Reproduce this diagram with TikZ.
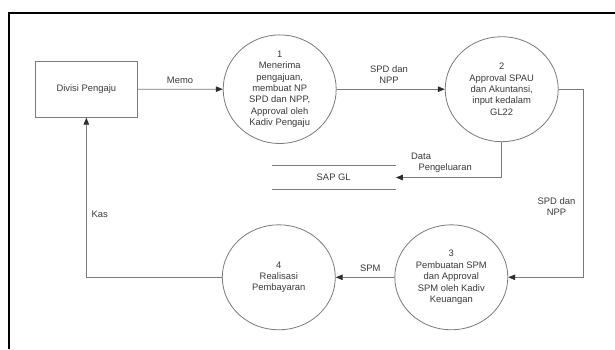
\documentclass[tikz,border=0pt]{standalone}
\usepackage{fontspec}
\setmainfont{Liberation Sans}
\usetikzlibrary{arrows.meta,shapes.geometric,calc}
\definecolor{linegray}{HTML}{7A7A7A}
\definecolor{textgray}{HTML}{3A3A3A}
\definecolor{tipgray}{HTML}{2E2E2E}
\tikzset{
  every node/.style={font=\fontsize{9.4}{11.4}\selectfont, text=textgray},
  process/.style={ellipse, draw=linegray, line width=0.8pt, minimum width=113pt,
    minimum height=105pt, inner sep=0pt, align=center},
  entity/.style={rectangle, draw=linegray, line width=0.8pt, minimum width=102.7pt,
    minimum height=56.3pt, inner sep=0pt},
  datastore/.style={rectangle, minimum width=124pt, minimum height=23.6pt, inner sep=0pt},
  flowlabel/.style={inner sep=0pt, align=center},
  flow/.style={draw=linegray, line width=0.8pt,
    -{Triangle[length=7pt,width=5.5pt,color=tipgray]}},
  frameline/.style={draw=black, line width=2pt}
}
\begin{document}
\begin{tikzpicture}[x=1pt,y=-1pt]
  \useasboundingbox[fill=white] (0,0) rectangle (615,349);
  % outer frame
  \draw[frameline] (9,349) -- (9,12.7) -- (615,12.7);

  % external entity, processes and data store
  \node[entity] (div) at (86.35,89.15) {Divisi Pengaju};
  \node[process] (p1) at (279.7,89.2) {1\\Menerima\\pengajuan,\\membuat NP\\SPD dan NPP,\\Approval oleh\\Kadiv Pengaju};
  \node[process] (p2) at (501.7,89.2) {2\\Approval SPAU\\dan Akuntansi,\\input kedalam\\GL22};
  \node[process] (p3) at (451.3,277.3) {3\\Pembuatan SPM\\dan Approval\\SPM oleh Kadiv\\Keuangan};
  \node[process] (p4) at (278.8,277.3) {4\\Realisasi\\Pembayaran};
  \node[datastore] (sap) at (333.7,177.5) {SAP GL};
  \draw[linegray, line width=0.8pt] (sap.north west) -- (sap.north east)
    (sap.south west) -- (sap.south east);

  % data flows
  \draw[flow] (div) -- (p1);
  \draw[flow] (p1) -- (p2);
  \draw[flow] (p2.east) -- ++(24.5,0) |- (p3.east);
  \draw[flow] (p2.south) |- (sap.east);
  \draw[flow] (p3.west) -- (p4.east);
  \draw[flow] (p4.west) -| (div.south);

  % flow labels
  \node[flowlabel] (lmemo) at (180,80.7) {Memo};
  \node[flowlabel] (lspd1) at (389,74.3) {SPD dan\\NPP};
  \node[flowlabel, anchor=west, align=left] (ldata) at (411,162.5) {Data\\\hspace*{7.3pt}Pengeluaran};
  \node[flowlabel] (lspd2) at (556.5,206.3) {SPD dan\\NPP};
  \node[flowlabel] (lspm) at (370.3,268.3) {SPM};
  \node[flowlabel] (lkas) at (99.7,214) {Kas};
\end{tikzpicture}
\end{document}
